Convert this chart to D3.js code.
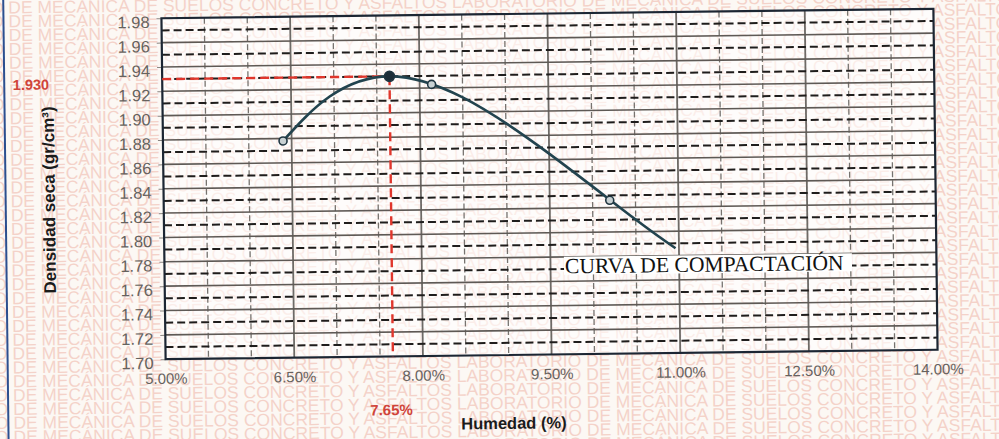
<!DOCTYPE html>
<html>
<head>
<meta charset="utf-8">
<script src="https://cdn.jsdelivr.net/npm/d3@7"></script>
<style>
  html, body { margin: 0; padding: 0; background: #fcf8f4; }
  svg { display: block; }
</style>
</head>
<body>
<svg id="chart" width="999" height="439"></svg>
<script>
// ---- data ----
const humedadTicks = [5.0, 6.5, 8.0, 9.5, 11.0, 12.5, 14.0];
const densidadTicks = [1.70, 1.72, 1.74, 1.76, 1.78, 1.80, 1.82, 1.84, 1.86, 1.88, 1.90, 1.92, 1.94, 1.96, 1.98];
// compaction test points (humidity %, dry density g/cm3)
const ensayoHumedad = [6.40, 7.65, 8.14, 10.20];
const ensayoDensidad = [1.878, 1.930, 1.923, 1.826];
// fitted compaction curve
const curvaHumedad = [6.40, 6.95, 7.65, 8.50, 9.48, 10.48, 10.96];
const curvaDensidad = [1.878, 1.914, 1.930, 1.912, 1.866, 1.811, 1.786];
// optimum moisture content / maximum dry density
const optimoHumedad = 7.65;
const optimoDensidad = 1.930;
const marcaAgua = "O DE MECÁNICA DE SUELOS CONCRETO Y ASFALTOS LABORATORIO DE MECÁNICA DE SUELOS CONCRETO Y ASFALTOS";

// ---- layout ----
const W = 999, H = 439;
const plot = { left: 163.5, top: 13.5, right: 935.5, bottom: 354.5 };

const svg = d3.select("#chart");
svg.append("rect").attr("width", W).attr("height", H).attr("fill", "#fcf8f4");

// the whole sheet sits slightly tilted
const sheet = svg.append("g").attr("transform", "rotate(-0.7, 549.5, 184)");

// background lettering of the laboratory sheet
const wm = sheet.append("g")
  .attr("font-family", "Liberation Sans, Arial, sans-serif")
  .attr("font-size", 17.5)
  .attr("fill", "#efb4a6")
  .attr("opacity", 0.55);
wm.selectAll("text").data(d3.range(0, 33)).join("text")
  .attr("x", -8)
  .attr("y", k => 6.8 + 13.85 * k)
  .text(marcaAgua);

// page edge line on the left
sheet.append("line")
  .attr("x1", 5.5).attr("x2", 5.5).attr("y1", -10).attr("y2", H + 10)
  .attr("stroke", "#2c4f8f").attr("stroke-width", 2);

const x = d3.scaleLinear().domain([5, 14]).range([plot.left, plot.right]);
const y = d3.scaleLinear().domain([1.70, 1.98]).range([plot.bottom, plot.top]);

// plot background lightens the lettering behind the grid
sheet.append("rect")
  .attr("x", plot.left).attr("y", plot.top)
  .attr("width", plot.right - plot.left).attr("height", plot.bottom - plot.top)
  .attr("fill", "#ffffff").attr("opacity", 0.6);

const grid = sheet.append("g");

// vertical grid: every 0.5 %, solid on labelled ticks, dashed between
const vLines = d3.range(5.5, 14, 0.5).map(v => +v.toFixed(2));
grid.selectAll("line.v").data(vLines).join("line")
  .attr("class", "v")
  .attr("x1", d => x(d)).attr("x2", d => x(d))
  .attr("y1", plot.top).attr("y2", plot.bottom)
  .attr("stroke", d => humedadTicks.includes(d) ? "#6e6a66" : "#77736f")
  .attr("stroke-width", d => humedadTicks.includes(d) ? 1.8 : 1.3)
  .attr("stroke-dasharray", d => humedadTicks.includes(d) ? null : "6,3");

// horizontal grid: solid on each 0.02, dashed at the 0.01 in between
const hSolid = densidadTicks.slice(1, -1);
const hDashed = densidadTicks.slice(0, -1).map(v => +(v + 0.01).toFixed(2));
grid.selectAll("line.hs").data(hSolid).join("line")
  .attr("class", "hs")
  .attr("x1", plot.left).attr("x2", plot.right)
  .attr("y1", d => y(d)).attr("y2", d => y(d))
  .attr("stroke", "#5e5955").attr("stroke-width", 1.6);
grid.selectAll("line.hd").data(hDashed).join("line")
  .attr("class", "hd")
  .attr("x1", plot.left).attr("x2", plot.right)
  .attr("y1", d => y(d)).attr("y2", d => y(d))
  .attr("stroke", "#1f1d1c").attr("stroke-width", 2)
  .attr("stroke-dasharray", "8,4");

// axes
const yAxis = sheet.append("g")
  .attr("transform", `translate(${plot.left},0)`)
  .call(d3.axisLeft(y).tickValues(densidadTicks).tickFormat(d3.format(".2f")).tickSize(5).tickPadding(7));
const xAxis = sheet.append("g")
  .attr("transform", `translate(0,${plot.bottom})`)
  .call(d3.axisBottom(x).tickValues(humedadTicks).tickFormat(d => d3.format(".2f")(d) + "%").tickSize(0).tickPadding(14));
[yAxis, xAxis].forEach(a => {
  a.select(".domain").remove();
  a.selectAll("line").attr("stroke", "#8a8580");
  a.selectAll("text")
    .attr("font-family", "Liberation Sans, Arial, sans-serif")
    .attr("fill", "#66625e");
});
yAxis.selectAll("text").attr("font-size", 16.5).attr("dy", "0.55em");
xAxis.selectAll("text").attr("font-size", 15);

// frame
sheet.append("rect")
  .attr("x", plot.left).attr("y", plot.top)
  .attr("width", plot.right - plot.left).attr("height", plot.bottom - plot.top)
  .attr("fill", "none").attr("stroke", "#1c2633").attr("stroke-width", 2.2);

// optimum guides
const red = "#e0362c";
sheet.append("line")
  .attr("x1", plot.left).attr("x2", x(optimoHumedad))
  .attr("y1", y(optimoDensidad)).attr("y2", y(optimoDensidad))
  .attr("stroke", red).attr("stroke-width", 2.4).attr("stroke-dasharray", "9,5");
sheet.append("line")
  .attr("x1", x(optimoHumedad)).attr("x2", x(optimoHumedad))
  .attr("y1", y(optimoDensidad)).attr("y2", plot.bottom)
  .attr("stroke", red).attr("stroke-width", 2.4).attr("stroke-dasharray", "9,5");

// compaction curve
const curvePts = curvaHumedad.map((h, i) => [h, curvaDensidad[i]]);
sheet.append("path")
  .datum(curvePts)
  .attr("fill", "none").attr("stroke", "#22434e").attr("stroke-width", 2.6)
  .attr("d", d3.line().x(d => x(d[0])).y(d => y(d[1])).curve(d3.curveNatural));

// test points
const pts = ensayoHumedad.map((h, i) => ({ h, d: ensayoDensidad[i] }));
sheet.selectAll("circle.p").data(pts).join("circle")
  .attr("class", "p")
  .attr("cx", d => x(d.h)).attr("cy", d => y(d.d))
  .attr("r", d => d.h === optimoHumedad ? 5 : 4)
  .attr("fill", d => d.h === optimoHumedad ? "#1d2e38" : "#c8d1d3")
  .attr("stroke", "#1f3540").attr("stroke-width", 1.6);

// curve label on a white patch
const lbl = sheet.append("g");
lbl.append("rect")
  .attr("x", 563).attr("y", 257).attr("width", 288).attr("height", 18)
  .attr("fill", "#ffffff");
lbl.append("text")
  .attr("x", 564).attr("y", 266).attr("dy", "0.35em")
  .attr("font-family", "Liberation Serif, Times New Roman, serif")
  .attr("font-size", 21.6).attr("fill", "#111")
  .text("CURVA DE COMPACTACIÓN");

// optimum values
sheet.append("text")
  .attr("x", 14).attr("y", y(optimoDensidad) + 4).attr("dy", "0.35em")
  .attr("font-family", "Liberation Sans, Arial, sans-serif")
  .attr("font-size", 14.5).attr("font-weight", "bold").attr("fill", "#d0443a")
  .text(d3.format(".3f")(optimoDensidad));
sheet.append("text")
  .attr("x", x(optimoHumedad) - 2).attr("y", 408).attr("dy", "0.35em")
  .attr("text-anchor", "middle")
  .attr("font-family", "Liberation Sans, Arial, sans-serif")
  .attr("font-size", 15).attr("font-weight", "bold").attr("fill", "#d0443a")
  .text(d3.format(".2f")(optimoHumedad) + "%");

// axis titles
sheet.append("text")
  .attr("x", 511).attr("y", 422.6).attr("dy", "0.35em")
  .attr("text-anchor", "middle")
  .attr("font-family", "Liberation Sans, Arial, sans-serif")
  .attr("font-size", 16.5).attr("font-weight", "bold").attr("fill", "#1b1b1b")
  .text("Humedad (%)");
sheet.append("text")
  .attr("transform", "translate(48.8,193.9) rotate(-90)")
  .attr("dy", "0.35em")
  .attr("text-anchor", "middle")
  .attr("font-family", "Liberation Sans, Arial, sans-serif")
  .attr("font-size", 17).attr("font-weight", "bold").attr("fill", "#1b1b1b")
  .text("Densidad seca (gr/cm³)");
</script>
</body>
</html>
